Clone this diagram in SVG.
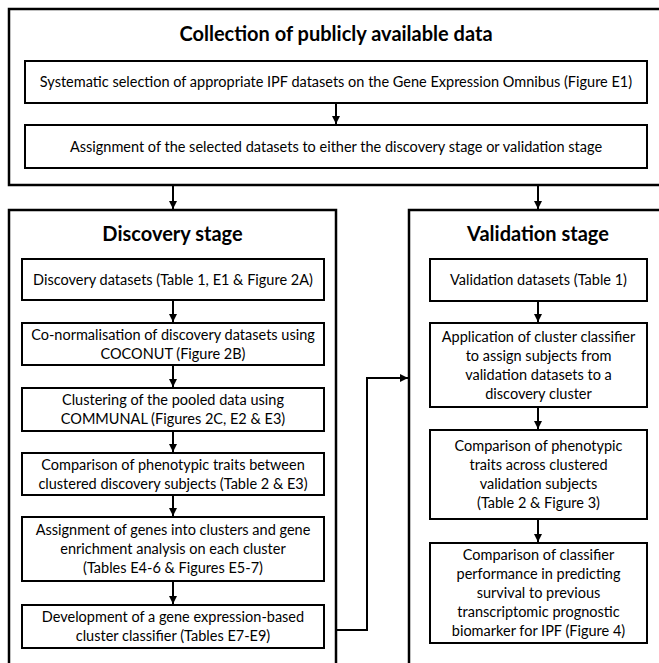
<svg xmlns="http://www.w3.org/2000/svg" width="659" height="663" viewBox="0 0 659 663">
<defs>
<marker id="ah" markerWidth="8" markerHeight="8" refX="8" refY="4" orient="auto" markerUnits="userSpaceOnUse">
<path d="M0,0 L8,4 L0,8 Z" fill="#000"/>
</marker>
<style>
.frame{fill:#fff;stroke:#000;stroke-width:2.5}
.box{fill:#fff;stroke:#000;stroke-width:2}
.t{font-family:Lato,"Open Sans","Liberation Sans",sans-serif;font-size:14.5px;fill:#000;text-anchor:middle}
.h{font-family:Lato,"Open Sans","Liberation Sans",sans-serif;font-size:20px;font-weight:bold;fill:#000;text-anchor:middle}
.c{fill:none;stroke:#000;stroke-width:2}
</style>
</defs>
<rect width="659" height="663" fill="#fff"/>
<g id="collection">
<rect class="frame" x="9" y="9" width="680" height="176"/>
<text class="h" x="336" y="41">Collection of publicly available data</text>
</g>
<g id="systematic">
<rect class="box" x="25" y="61" width="622" height="42"/>
<text class="t" x="336" y="87">Systematic selection of appropriate IPF datasets on the Gene Expression Omnibus (Figure E1)</text>
</g>
<g id="assignment-datasets">
<rect class="box" x="25" y="125" width="622" height="43"/>
<text class="t" x="336" y="151.5">Assignment of the selected datasets to either the discovery stage or validation stage</text>
</g>
<g id="discovery">
<rect class="frame" x="9" y="210" width="327" height="500"/>
<text class="h" x="172.5" y="241">Discovery stage</text>
</g>
<g id="validation">
<rect class="frame" x="409" y="210" width="280" height="500"/>
<text class="h" x="538" y="241">Validation stage</text>
</g>
<g id="d1">
<rect class="box" x="22" y="259" width="302" height="41"/>
<text class="t" x="173" y="284.5">Discovery datasets (Table 1, E1 &amp; Figure 2A)</text>
</g>
<g id="d2">
<rect class="box" x="22" y="323" width="302" height="42"/>
<text class="t" x="173" y="339.5">Co-normalisation of discovery datasets using</text>
<text class="t" x="173" y="358.5">COCONUT (Figure 2B)</text>
</g>
<g id="d3">
<rect class="box" x="22" y="388" width="302" height="43"/>
<text class="t" x="173" y="405">Clustering of the pooled data using</text>
<text class="t" x="173" y="424">COMMUNAL (Figures 2C, E2 &amp; E3)</text>
</g>
<g id="d4">
<rect class="box" x="22" y="453" width="302" height="42"/>
<text class="t" x="173" y="469.5">Comparison of phenotypic traits between</text>
<text class="t" x="173" y="488.5">clustered discovery subjects (Table 2 &amp; E3)</text>
</g>
<g id="d5">
<rect class="box" x="22" y="517" width="302" height="64"/>
<text class="t" x="173" y="535">Assignment of genes into clusters and gene</text>
<text class="t" x="173" y="554">enrichment analysis on each cluster</text>
<text class="t" x="173" y="573">(Tables E4-6 &amp; Figures E5-7)</text>
</g>
<g id="d6">
<rect class="box" x="22" y="605" width="302" height="43"/>
<text class="t" x="173" y="622">Development of a gene expression-based</text>
<text class="t" x="173" y="641">cluster classifier (Tables E7-E9)</text>
</g>
<g id="v1">
<rect class="box" x="430" y="259" width="217" height="42"/>
<text class="t" x="538.5" y="285">Validation datasets (Table 1)</text>
</g>
<g id="v2">
<rect class="box" x="430" y="323" width="217" height="84"/>
<text class="t" x="538.5" y="341.5">Application of cluster classifier</text>
<text class="t" x="538.5" y="360.5">to assign subjects from</text>
<text class="t" x="538.5" y="379.5">validation datasets to a</text>
<text class="t" x="538.5" y="398.5">discovery cluster</text>
</g>
<g id="v3">
<rect class="box" x="430" y="430" width="217" height="89"/>
<text class="t" x="538.5" y="451">Comparison of phenotypic</text>
<text class="t" x="538.5" y="470">traits across clustered</text>
<text class="t" x="538.5" y="489">validation subjects</text>
<text class="t" x="538.5" y="508">(Table 2 &amp; Figure 3)</text>
</g>
<g id="v4">
<rect class="box" x="430" y="543" width="217" height="100"/>
<text class="t" x="538.5" y="560">Comparison of classifier</text>
<text class="t" x="538.5" y="579">performance in predicting</text>
<text class="t" x="538.5" y="598">survival to previous</text>
<text class="t" x="538.5" y="617">transcriptomic prognostic</text>
<text class="t" x="538.5" y="636">biomarker for IPF (Figure 4)</text>
</g>
<g id="connectors">
<line class="c" x1="336" y1="104" x2="336" y2="124" marker-end="url(#ah)"/>
<line class="c" x1="173" y1="186" x2="173" y2="209" marker-end="url(#ah)"/>
<line class="c" x1="538" y1="186" x2="538" y2="209" marker-end="url(#ah)"/>
<line class="c" x1="173" y1="301" x2="173" y2="322" marker-end="url(#ah)"/>
<line class="c" x1="173" y1="366" x2="173" y2="387" marker-end="url(#ah)"/>
<line class="c" x1="173" y1="432" x2="173" y2="452" marker-end="url(#ah)"/>
<line class="c" x1="173" y1="496" x2="173" y2="516" marker-end="url(#ah)"/>
<line class="c" x1="173" y1="582" x2="173" y2="604" marker-end="url(#ah)"/>
<line class="c" x1="538" y1="302" x2="538" y2="322" marker-end="url(#ah)"/>
<line class="c" x1="538" y1="408" x2="538" y2="429" marker-end="url(#ah)"/>
<line class="c" x1="538" y1="520" x2="538" y2="542" marker-end="url(#ah)"/>
<polyline class="c" points="337,630 367,630 367,378 408,378" marker-end="url(#ah)"/>
</g>
</svg>
